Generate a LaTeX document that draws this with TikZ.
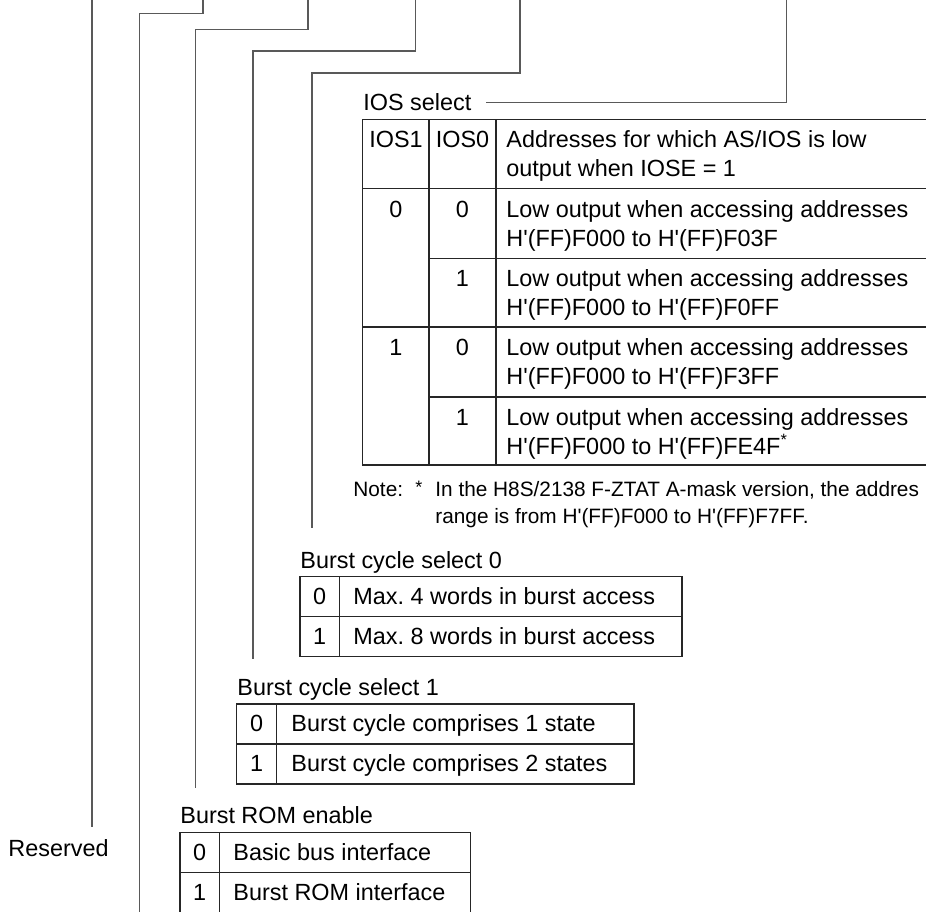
\documentclass[tikz,border=0pt]{standalone}
\usepackage{fontspec}
\setmainfont{Liberation Sans}
\newcommand{\hq}{\textquotesingle}

\begin{document}
\begin{tikzpicture}[x=0.5pt,y=-0.5pt,
    brk/.style={black!65,line width=0.55pt},
    tbl/.style={black!85,line width=0.6pt},
    txt/.style={anchor=base west,inner sep=0pt,font=\fontsize{11.7}{14.5}\selectfont},
    num/.style={anchor=base,inner sep=0pt,font=\fontsize{11.7}{14.5}\selectfont},
    two/.style={txt,align=left},
    ntxt/.style={anchor=base west,inner sep=0pt,align=left,font=\fontsize{10.4}{13.5}\selectfont}]
  \useasboundingbox (0,0) rectangle (926,911);
  \clip (0,0) rectangle (926,911);
  % bit lines coming down from the register
  \coordinate (rsvTop) at (92,0);
  \coordinate (rsvEnd) at (92,827);
  \coordinate (b6Top) at (203,0);
  \coordinate (b6End) at (139.7,915);
  \coordinate (breTop) at (308,0);
  \coordinate (breEnd) at (195.3,788);
  \coordinate (bcsaTop) at (415.3,0);
  \coordinate (bcsaEnd) at (253,659);
  \coordinate (bcsbTop) at (520,0);
  \coordinate (bcsbEnd) at (312,528);
  \coordinate (iosTop) at (786.7,0);
  \draw[brk] (rsvTop) -- (rsvEnd);
  \draw[brk] (b6Top) -- ++(0,13.3) -| (b6End);
  \draw[brk] (breTop) -- ++(0,29.3) -| (breEnd);
  \draw[brk] (bcsaTop) -- ++(0,51) -| (bcsaEnd);
  \draw[brk] (bcsbTop) -- ++(0,73) -| (bcsbEnd);
  % IOS select
  \node[txt] (ios) at (363,110) {IOS select};
  \draw[brk] (iosTop) |- ([xshift=7pt,yshift=3.6pt]ios.base east);
  \draw[tbl] (362.7,119.3) rectangle (950,465);
  \draw[tbl] (429,119.3) -- (429,465);
  \draw[tbl] (496,119.3) -- (496,465);
  \draw[tbl] (362.7,188.7) -- (950,188.7);
  \draw[tbl] (362.7,327) -- (950,327);
  \draw[tbl] (429,258.3) -- (950,258.3);
  \draw[tbl] (429,397) -- (950,397);
  \node[num] (h1) at (396,147) {IOS1};
  \node[num] (h0) at (462.5,147) {IOS0};
  \node[two] (hd) at (506,176) {Addresses for which AS/IOS is low\\output when IOSE = 1};
  \node[num] (r1a) at (396,217) {0};
  \node[num] (r1b) at (462.5,217) {0};
  \node[two] (r1c) at (506,246) {Low output when accessing addresses\\H\hq(FF)F000 to H\hq(FF)F03F};
  \node[num] (r2b) at (462.5,286) {1};
  \node[two] (r2c) at (506,315) {Low output when accessing addresses\\H\hq(FF)F000 to H\hq(FF)F0FF};
  \node[num] (r3a) at (396,355) {1};
  \node[num] (r3b) at (462.5,355) {0};
  \node[two] (r3c) at (506,384) {Low output when accessing addresses\\H\hq(FF)F000 to H\hq(FF)F3FF};
  \node[num] (r4b) at (462.5,425) {1};
  \node[two] (r4c) at (506,454) {Low output when accessing addresses\\H\hq(FF)F000 to H\hq(FF)FE4F\textsuperscript{*}};
  % note under the table
  \node[ntxt] (note) at (353,496) {Note:};
  \node[ntxt,font=\fontsize{9}{9}\selectfont] (star) at (415,493) {*};
  \node[ntxt] (ntext) at (435,523) {In the H8S/2138 F-ZTAT A-mask version, the addres\\range is from H\hq(FF)F000 to H\hq(FF)F7FF.};
  % burst cycle select 0
  \node[txt] (bcsb) at (300,568) {Burst cycle select 0};
  \draw[tbl] (300,576.7) rectangle (682,656.7);
  \draw[tbl] (339.3,576.7) -- (339.3,656.7);
  \draw[tbl] (300,616.7) -- (682,616.7);
  \node[num] (bcsb0) at (319.7,604) {0};
  \node[txt] (bcsb0t) at (353,604) {Max.\ 4 words in burst access};
  \node[num] (bcsb1) at (319.7,644) {1};
  \node[txt] (bcsb1t) at (353,644) {Max.\ 8 words in burst access};
  % burst cycle select 1
  \node[txt] (bcsa) at (237,695) {Burst cycle select 1};
  \draw[tbl] (236.7,704) rectangle (634,784);
  \draw[tbl] (276.7,704) -- (276.7,784);
  \draw[tbl] (236.7,744) -- (634,744);
  \node[num] (bcsa0) at (256.7,731) {0};
  \node[txt] (bcsa0t) at (291,731) {Burst cycle comprises 1 state};
  \node[num] (bcsa1) at (256.7,771) {1};
  \node[txt] (bcsa1t) at (291,771) {Burst cycle comprises 2 states};
  % burst ROM enable
  \node[txt] (bre) at (180,823) {Burst ROM enable};
  \draw[tbl] (180,832.7) rectangle (470.7,913);
  \draw[tbl] (219.3,832.7) -- (219.3,913);
  \draw[tbl] (180,872.7) -- (470.7,872.7);
  \node[num] (bre0) at (199.7,860) {0};
  \node[txt] (bre0t) at (233,860) {Basic bus interface};
  \node[num] (bre1) at (199.7,900) {1};
  \node[txt] (bre1t) at (233,900) {Burst ROM interface};
  % reserved bit
  \node[txt] (rsv) at (8,856.7) {Reserved};
\end{tikzpicture}
\end{document}
